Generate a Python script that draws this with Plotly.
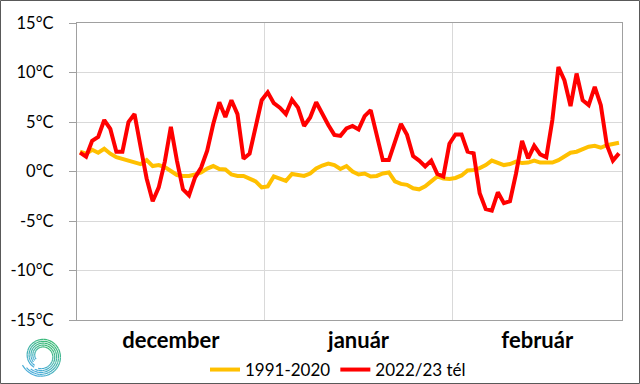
import numpy as np
import plotly.graph_objects as go

# ---------------- data ----------------
month_labels = ["december", "január", "február"]
month_lengths = [31, 31, 28]
days = list(range(sum(month_lengths)))

normal_1991_2020 = [
    2.0, 1.8, 2.2, 1.9, 2.3, 1.8, 1.45, 1.25, 1.05, 0.9,
    0.75, 1.15, 0.55, 0.65, 0.45, 0.05, -0.35, -0.45, -0.45, -0.3,
    -0.1, 0.3, 0.55, 0.25, 0.2, -0.3, -0.45, -0.45, -0.75, -1.0,
    -1.6, -1.5, -0.5, -0.7, -0.95, -0.25, -0.35, -0.45, -0.2, 0.3,
    0.6, 0.8, 0.65, 0.25, 0.55, 0.0, -0.3, -0.2, -0.5, -0.45,
    -0.2, -0.1, -1.0, -1.25, -1.35, -1.7, -1.8, -1.5, -1.0, -0.5,
    -0.7, -0.75, -0.65, -0.4, 0.1, 0.15, 0.35, 0.65, 1.1, 0.9,
    0.65, 0.75, 1.0, 0.85, 0.9, 1.1, 0.9, 0.9, 0.9, 1.15,
    1.5, 1.9, 2.0, 2.3, 2.5, 2.6, 2.4, 2.65, 2.75, 2.9,
]
winter_2022_23 = [
    1.9, 1.5, 3.1, 3.5, 5.2, 4.3, 2.0, 2.0, 5.0, 5.8,
    2.5, -0.7, -3.0, -1.6, 1.0, 4.5, 1.1, -1.8, -2.4, -0.6,
    0.4, 2.1, 4.8, 7.0, 5.5, 7.2, 5.8, 1.3, 1.8, 4.5,
    7.2, 8.0, 6.9, 6.45, 5.8, 7.25, 6.45, 4.6, 5.45, 7.0,
    5.8, 4.7, 3.7, 3.6, 4.35, 4.6, 4.25, 5.6, 6.2, 3.7,
    1.15, 1.15, 2.85, 4.8, 3.7, 1.55, 1.1, 0.5, 1.1, -0.25,
    -0.5, 2.8, 3.75, 3.75, 2.0, 1.83, -2.2, -3.8, -3.95, -2.1,
    -3.2, -3.0, -0.2, 3.1, 1.33, 2.6, 1.73, 1.43, 5.2, 10.55,
    9.2, 6.6, 9.9, 7.2, 6.7, 8.55, 6.7, 2.67, 1.1, 1.83,
]
y_ticks = [-15, -10, -5, 0, 5, 10, 15]
y_tick_labels = [f"{v}°C" for v in y_ticks]
series_names = ["1991-2020", "2022/23 tél"]

# month boundaries / centers on the day axis
bounds = np.concatenate([[0], np.cumsum(month_lengths)]) - 0.5
month_centers = [(bounds[i] + bounds[i + 1]) / 2 for i in range(len(month_lengths))]
month_edges = list(bounds[1:-1])

FONT = "Lato, 'Liberation Sans', sans-serif"

fig = go.Figure()
fig.add_trace(go.Scatter(x=days, y=normal_1991_2020, mode="lines", name=series_names[0],
                         line=dict(color="#FFC000", width=4)))
fig.add_trace(go.Scatter(x=days, y=winter_2022_23, mode="lines", name=series_names[1],
                         line=dict(color="#FF0000", width=4)))

W, H = 640, 384
ML, MR, MT, MB = 77, 18, 23, 64
PW, PH = W - ML - MR, H - MT - MB


def to_paper(px, py):
    return (px - ML) / PW, (H - MB - py) / PH


shapes = []
# outer chart border
x0, y0 = to_paper(0.5, 0.5)
x1, y1 = to_paper(W - 0.5, H - 0.5)
shapes.append(dict(type="rect", xref="paper", yref="paper", x0=x0, y0=y0, x1=x1, y1=y1,
                   line=dict(color="#595959", width=1), layer="below"))

# logo: spiral of thin strands
def mix(c1, c2, t):
    return "rgb(%d,%d,%d)" % tuple(int(round(a + (b - a) * t)) for a, b in zip(c1, c2))

green = (60, 186, 120)
blue = (74, 172, 217)
cx, cy = 42, 356
for k in range(5):
    th_start = 205 + k * 12
    th_end = 600 - k * 8
    ths = np.arange(th_start, th_end + 1, 15.0)
    for a, b in zip(ths[:-1], ths[1:]):
        seg = np.linspace(a, b, 4)
        pts = []
        for th in seg:
            r = 21.5 - k * 1.9 - 8.0 * (th - 205) / 400.0
            rad = np.radians(th)
            px = cx + r * np.cos(rad)
            py = cy - r * np.sin(rad)
            pts.append(to_paper(px, py))
        path = "M " + " L ".join(f"{p[0]:.5f},{p[1]:.5f}" for p in pts)
        t = (1 + np.cos(np.radians((a + b) / 2 - 60))) / 2
        shapes.append(dict(type="path", xref="paper", yref="paper", path=path,
                           line=dict(color=mix(blue, green, t), width=1.2)))

fig.update_layout(
    width=W, height=H,
    margin=dict(l=ML, r=MR, t=MT, b=MB, autoexpand=False),
    paper_bgcolor="white", plot_bgcolor="white",
    font=dict(family=FONT, color="black"),
    showlegend=True,
    legend=dict(orientation="h", x=to_paper(338, 0)[0], xanchor="center",
                y=to_paper(0, 370)[1], yanchor="middle",
                font=dict(size=17, family=FONT), bgcolor="rgba(0,0,0,0)",
                itemwidth=30, tracegroupgap=0),
    shapes=shapes,
    xaxis=dict(range=[-0.5, len(days) - 0.5], tickmode="array", tickvals=month_centers,
               ticktext=month_labels, showgrid=False, zeroline=False, ticks="",
               automargin=False,
               tickfont=dict(size=22, family=FONT, weight="bold", color="black"),
               ticklabelstandoff=0,
               showline=True, linecolor="#a0a0a0", linewidth=1.3, mirror=True,
               minor=dict(tickmode="array", tickvals=month_edges, showgrid=True,
                          gridcolor="#d9d9d9", gridwidth=1, ticks="")),
    yaxis=dict(range=[-15, 15], tickmode="array", tickvals=y_ticks, ticktext=y_tick_labels,
               showgrid=True, gridcolor="#d9d9d9", gridwidth=1, zeroline=False,
               automargin=False,
               ticks="outside", ticklen=7, tickcolor="#a0a0a0", tickwidth=1,
               ticklabelstandoff=12,
               tickfont=dict(size=16.5, family=FONT, color="black"),
               showline=True, linecolor="#a0a0a0", linewidth=1.3, mirror=True),
)

fig.write_html("out.html", config={"displayModeBar": False},
               post_script="document.body.style.margin='0';document.body.style.overflow='hidden';")
